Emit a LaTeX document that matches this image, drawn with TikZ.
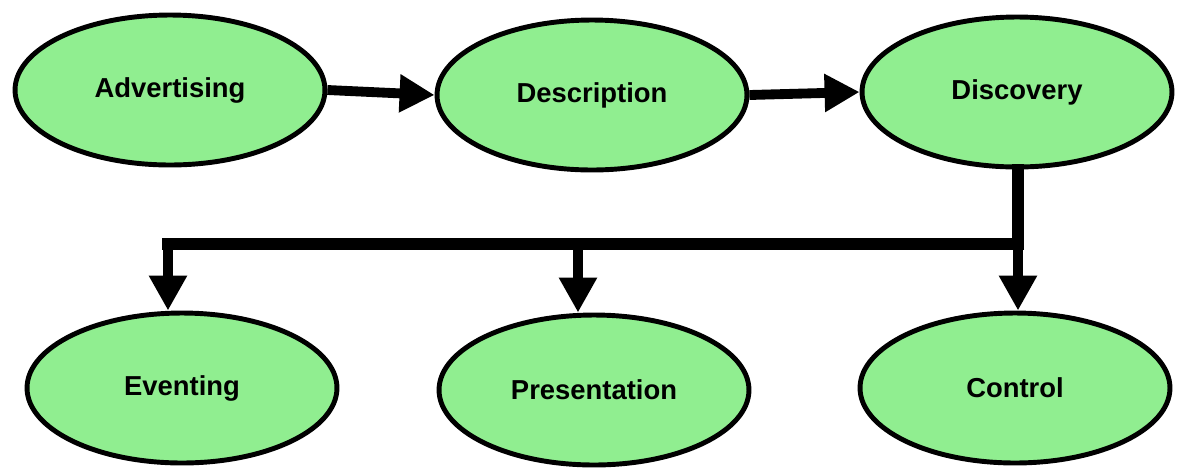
\documentclass[tikz,border=0pt]{standalone}
\usepackage{fontspec}
\setmainfont{Liberation Sans}
\usepackage{xcolor}
\usetikzlibrary{shapes.geometric, arrows.meta}
\definecolor{lightgreen}{HTML}{90EE90}

\begin{document}
\begin{tikzpicture}[x=0.02cm, y=-0.02cm,
        main/.style = {draw, ellipse, line width=2.8pt, fill=lightgreen,
            minimum width=6.2cm, minimum height=3cm,
            font=\fontsize{15.6}{18}\selectfont\bfseries},
        link/.style = {line width=5.6pt, -{Triangle[length=0.7cm, width=0.72cm]}},
        bar/.style = {line width=6.6pt, line cap=rect}]
        \useasboundingbox (0,0) rectangle (1177,468);
        \node[main] (adv) at (170,90) {Advertising};
        \node[main] (desc) at (592,95) {Description};
        \node[main] (disc) at (1017,92) {Discovery};
        \node[main] (ev) at (182,388) {Eventing};
        \node[main] (pres) at (594,390) {Presentation};
        \node[main] (ctrl) at (1015,388) {Control};
        \coordinate (hub) at (1018,244);
        \coordinate (lft) at (168,244);
        \coordinate (mid) at (578,244);
        \draw[link] (adv.east) -- (desc.west);
        \draw[link] (desc.east) -- (disc.west);
        \draw[bar] (disc.south -| hub) -- (hub) -- (lft);
        \draw[link] (lft) -- (lft |- ev.north);
        \draw[link] (mid) -- (mid |- pres.north);
        \draw[link] (hub) -- (hub |- ctrl.north);
        \end{tikzpicture}
\end{document}
